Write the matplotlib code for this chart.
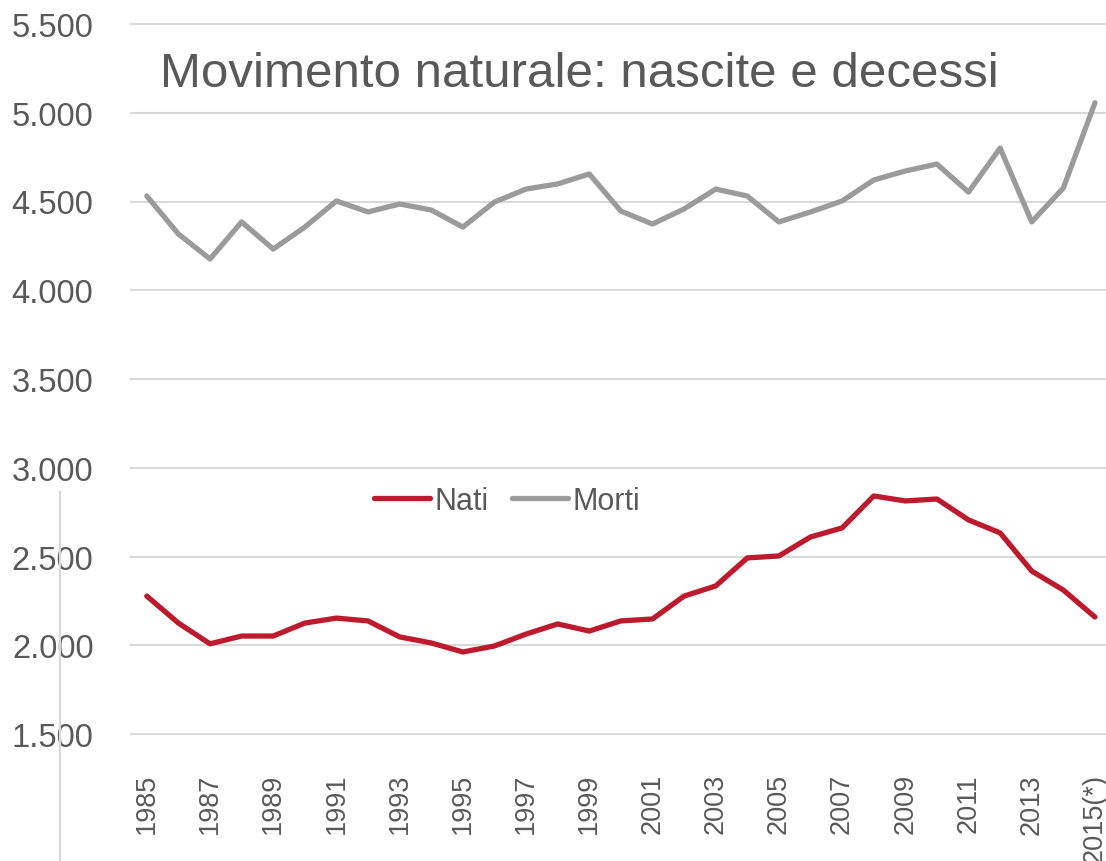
import matplotlib
matplotlib.use("Agg")
import matplotlib.pyplot as plt
from matplotlib.lines import Line2D
from matplotlib.ticker import FuncFormatter

years = list(range(1985, 2016))
year_labels = [str(y) for y in years[:-1]] + ["2015(*)"]
nati = [2277, 2125, 2008, 2052, 2052, 2125, 2153, 2137, 2047, 2013, 1962, 1996,
        2063, 2120, 2080, 2137, 2148, 2277, 2334, 2492, 2503, 2610, 2661, 2841,
        2813, 2824, 2706, 2633, 2418, 2311, 2159]
morti = [4531, 4317, 4176, 4385, 4232, 4356, 4503, 4441, 4486, 4452, 4356, 4497,
         4570, 4599, 4655, 4446, 4373, 4458, 4570, 4531, 4385, 4441, 4503, 4621,
         4672, 4711, 4553, 4801, 4385, 4576, 5056]
title = "Movimento naturale: nascite e decessi"
yticks = [1500, 2000, 2500, 3000, 3500, 4000, 4500, 5000, 5500]

plt.rcParams['font.family'] = ['Liberation Sans', 'DejaVu Sans']
TXT = '#595959'

W, H = 1106, 862
fig = plt.figure(figsize=(W / 100, H / 100), dpi=100)
ax = fig.add_axes([131 / W, 1 - 735 / H, (W - 131) / W, (735 - 25) / H])

x = list(range(len(years)))
ax.plot(x, nati, color='#BE1A2D', lw=3.8, solid_capstyle='round', label='Nati', zorder=3)
ax.plot(x, morti, color='#9B9B9B', lw=3.8, solid_capstyle='round', label='Morti', zorder=3)

ax.set_xlim(-0.5, 30.35)
ax.set_ylim(1500, 5500)
ax.set_yticks(yticks)
ax.yaxis.set_major_formatter(FuncFormatter(lambda v, p: f"{int(v):,}".replace(",", ".")))
ax.set_xticks(x[::2])
ax.set_xticklabels(year_labels[::2], rotation=90, va='top', ha='center')
ax.tick_params(axis='y', length=0, pad=27, labelsize=23.5, labelcolor=TXT)
ax.tick_params(axis='x', length=0, pad=28, labelsize=19.5, labelcolor=TXT)
for s in ax.spines.values():
    s.set_visible(False)
for t in yticks:
    ax.axhline(t, color='#D9D9D9', lw=1.5, zorder=1, clip_on=False)

leg = ax.legend(loc='center', bbox_to_anchor=(507 / W, 1 - 502 / H), bbox_transform=fig.transFigure,
                ncol=2, frameon=False, fontsize=22, handlelength=1.85, handletextpad=0.15,
                columnspacing=0.75)
for t in leg.get_texts():
    t.set_color(TXT)

fig.text(160 / W, 1 - 87 / H, title, fontsize=35.5, color=TXT, ha='left', va='baseline')
fig.add_artist(Line2D([59.5 / W, 59.5 / W], [1 - 493 / H, 0], color='#D9D9D9', lw=1.5))

fig.savefig('out.png', dpi=100)
